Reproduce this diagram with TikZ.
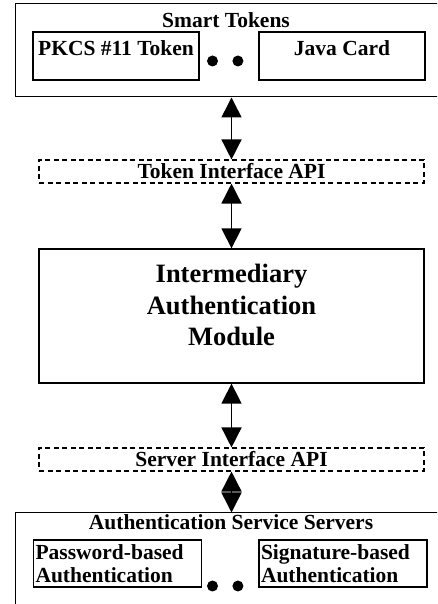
\documentclass[tikz,border=0pt]{standalone}
\usepackage{fontspec}
\setmainfont{Liberation Serif}
\usetikzlibrary{positioning,arrows.meta}

\begin{document}
\begin{tikzpicture}[
    x=1pt, y=1pt,
    node distance=0pt,
    outer/.style={draw, line width=1pt, minimum width=425pt, inner sep=0pt},
    title/.style={inner sep=0pt, font=\fontsize{21.5}{22}\selectfont\bfseries},
    card/.style={draw, line width=1.3pt, minimum width=166pt, minimum height=48pt, inner sep=0pt, font=\fontsize{21.5}{22.5}\selectfont\bfseries},
    tokencard/.style={card, text height=23.5pt, text depth=24.5pt},
    servercard/.style={card, minimum width=168pt, minimum height=47pt, align=left, inner xsep=2pt, text width=164pt},
    api/.style={draw, dashed, dash pattern=on 5pt off 3.5pt, line width=1.1pt, minimum width=385pt, minimum height=23pt, inner sep=0pt, font=\fontsize{21.5}{22}\selectfont\bfseries},
    module/.style={draw, line width=1.3pt, minimum width=385pt, minimum height=134pt, inner sep=0pt},
    dot/.style={circle, fill, inner sep=0pt, minimum size=11pt},
    link/.style={{Triangle[width=20pt,length=20pt]}-{Triangle[width=20pt,length=20pt]}, line width=1.5pt}
]
\clip (0,0) rectangle (437,604);

% Smart tokens
\node[outer, minimum height=93pt] (tokens) at (227.5,553.5) {};
\node[title, below=9pt of tokens.north, xshift=-1.5pt] (tokenstitle) {Smart Tokens};
\node[tokencard] (pkcs) at (116,548) {PKCS \#11 Token};
\node[tokencard] (javacard) at (342,548) {Java Card};
\node[dot] (tdot1) at (212.5,543) {};
\node[dot, right=14pt of tdot1] (tdot2) {};

% Middle column
\node[api] (tokenapi) at (231.5,432.5) {Token Interface API};
\node[module] (module) at (231.5,288) {};
\node[title, font=\fontsize{26.5}{31.5}\selectfont\bfseries, align=center, below=16pt of module.north] (moduletext) {Intermediary\\Authentication\\Module};
\node[api] (serverapi) at (231.5,144.5) {Server Interface API};

% Authentication servers
\node[outer, minimum height=97pt] (servers) at (227.5,42.5) {};
\node[title, below=2pt of servers.north, xshift=3.5pt] (serverstitle) {Authentication Service Servers};
\node[servercard] (password) at (117.5,40.5) {Password-based\\Authentication};
\node[servercard] (signature) at (343,40.5) {Signature-based\\Authentication};
\node[dot] (sdot1) at (212.5,18) {};
\node[dot, right=14pt of sdot1] (sdot2) {};

% Links
\draw[link] (tokenapi.north |- tokens.south) -- (tokenapi.north);
\draw[link] (tokenapi.south) -- (module.north);
\draw[link] (module.south) -- (serverapi.north);
\draw[link] (serverapi.south) -- (serverapi.south |- servers.north);
\end{tikzpicture}
\end{document}
